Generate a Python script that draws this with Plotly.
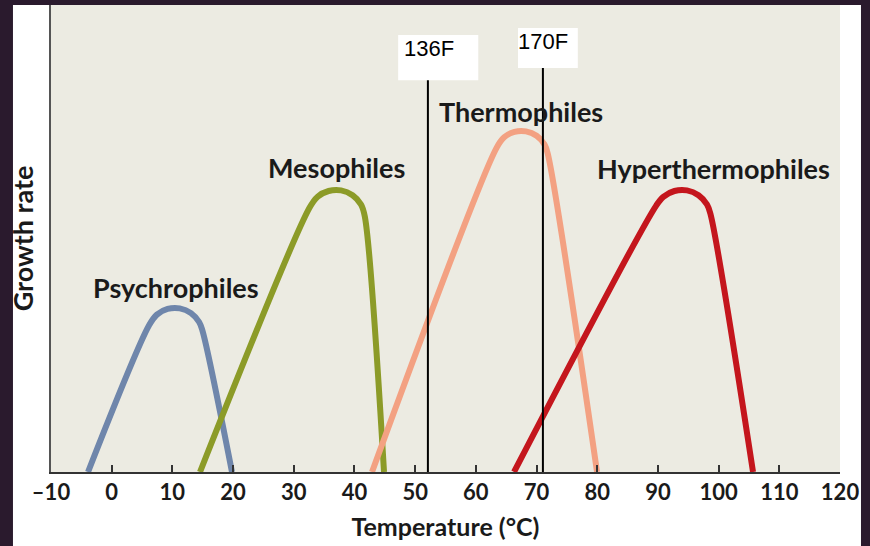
import plotly.graph_objects as go

# ---- data (temperature °C, relative growth rate 0-100) ----
psychro_t = [-3.90, 6.16, 7.45, 9.21, 11.22, 13.07, 14.40, 14.93, 19.82]
psychro_g = [0, 31.41, 33.70, 34.91, 35.03, 34.03, 32.12, 30.36, 0]

meso_t = [14.55, 32.59, 33.93, 35.74, 37.80, 39.69, 41.08, 41.71, 44.87]
meso_g = [0, 56.57, 58.95, 60.17, 60.30, 59.27, 57.30, 54.68, 0]

thermo_t = [42.89, 63.39, 64.66, 66.36, 68.26, 70.01, 71.30, 71.84, 79.97]
thermo_g = [0, 69.36, 71.68, 72.83, 72.93, 71.99, 70.16, 68.18, 0]

hyper_t = [66.29, 89.74, 90.89, 92.72, 94.79, 96.69, 98.09, 98.67, 105.67]
hyper_g = [0, 57.11, 58.93, 60.17, 60.30, 59.26, 57.28, 55.18, 0]

group_names = ["Psychrophiles", "Mesophiles", "Thermophiles", "Hyperthermophiles"]
label_t = [10.6, 37.1, 67.4, 99.2]
label_g = [39.6, 65.3, 77.3, 65.0]

marker_t = [52.1, 71.05]          # vertical reference lines (°C)
marker_top = [83.9, 86.5]          # top of each line (growth units)
marker_labels = ["136F", "170F"]
marker_label_t = [52.3, 71.1]
marker_label_g = [90.6, 92.2]

tick_vals = list(range(-10, 121, 10))
tick_text = ["–10"] + [str(v) for v in range(0, 121, 10)]

colors = ["#6f86ab", "#8c9b28", "#f3a182", "#c4161d"]
series = [(psychro_t, psychro_g), (meso_t, meso_g), (thermo_t, thermo_g), (hyper_t, hyper_g)]

BG_DARK = "#2a1a2d"
PLOT_BG = "#ecebe2"
LABEL_FONT = "Lato"
TEXT_COL = "#1a1a1a"

fig = go.Figure()

for (t, g), c, name in zip(series, colors, group_names):
    fig.add_trace(go.Scatter(x=t, y=g, mode="lines", name=name,
                             line=dict(color=c, width=6, shape="spline", smoothing=1.0),
                             hoverinfo="skip", showlegend=False))

for t, top in zip(marker_t, marker_top):
    fig.add_trace(go.Scatter(x=[t, t], y=[0, top], mode="lines",
                             line=dict(color="black", width=2),
                             hoverinfo="skip", showlegend=False))

shapes = [
    # white panel
    dict(type="rect", xref="paper", yref="paper", x0=-0.0482, x1=1.0266, y0=-0.2, y1=1.0,
         fillcolor="white", line=dict(width=0), layer="below"),
    # beige plot area
    dict(type="rect", xref="paper", yref="paper", x0=0, x1=1, y0=0, y1=1,
         fillcolor=PLOT_BG, line=dict(width=0), layer="below"),
]
# white label boxes around the reference-line labels
box_specs = [(47.2, 60.4, 83.9, 93.6), (66.95, 76.8, 86.5, 95.1)]
for x0, x1, y0, y1 in box_specs:
    shapes.append(dict(type="rect", xref="x", yref="y", x0=x0, x1=x1, y0=y0, y1=y1,
                       fillcolor="white", line=dict(width=0), layer="below"))

annotations = []
for name, t, g in zip(group_names, label_t, label_g):
    annotations.append(dict(x=t, y=g, xref="x", yref="y", text=name, showarrow=False,
                            font=dict(family=LABEL_FONT, size=27, color=TEXT_COL, weight="bold")))
for lab, t, g in zip(marker_labels, marker_label_t, marker_label_g):
    annotations.append(dict(x=t, y=g, xref="x", yref="y", text=lab, showarrow=False,
                            font=dict(family="Liberation Sans", size=22, color="black")))

fig.update_layout(
    width=870, height=546,
    margin=dict(l=51, r=30, t=5, b=74),
    paper_bgcolor=BG_DARK,
    plot_bgcolor=PLOT_BG,
    shapes=shapes,
    annotations=annotations,
    xaxis=dict(range=[-10, 120], tickvals=tick_vals, ticktext=tick_text,
               ticks="inside", ticklen=7, tickwidth=1.5, tickcolor="#333",
               showline=True, linecolor="#333", linewidth=2,
               showgrid=False, zeroline=False,
               tickfont=dict(family=LABEL_FONT, size=22, color=TEXT_COL, weight="bold"),
               title=dict(text="Temperature (°C)", standoff=14,
                          font=dict(family=LABEL_FONT, size=25, color=TEXT_COL, weight="bold"))),
    yaxis=dict(range=[0, 100], showticklabels=False, ticks="",
               showline=True, linecolor="#555", linewidth=2,
               showgrid=False, zeroline=False,
               title=dict(text="Growth rate", standoff=8,
                          font=dict(family=LABEL_FONT, size=27, color=TEXT_COL, weight="bold"))),
)

fig.write_html("out.html", config={"displayModeBar": False},
               post_script="document.body.style.margin='0px';document.body.style.padding='0px';")
